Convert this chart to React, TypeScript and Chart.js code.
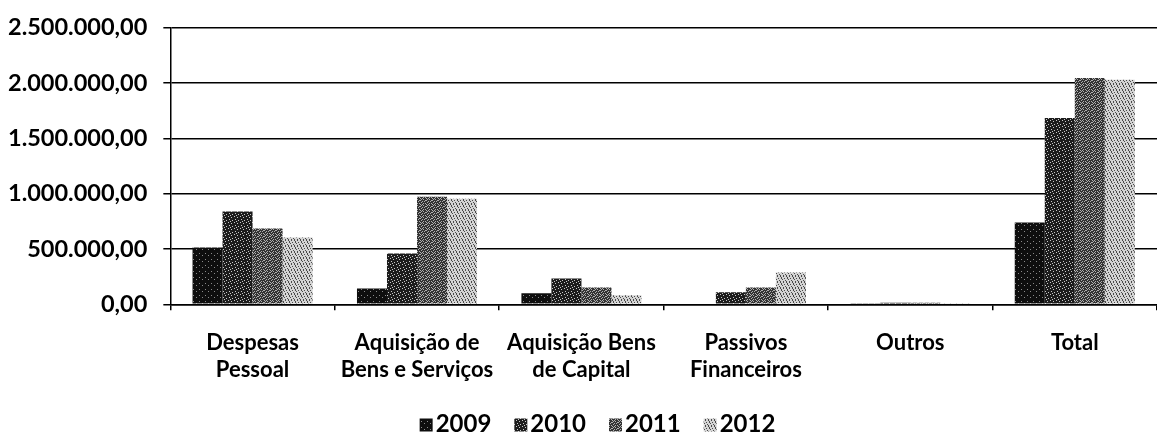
import React, { useEffect, useRef } from "react";
import { Chart, registerables } from "chart.js";

Chart.register(...registerables);

const categories: (string | string[])[] = [
  ["Despesas", "Pessoal"],
  ["Aquisição de", "Bens e Serviços"],
  ["Aquisição Bens", "de Capital"],
  ["Passivos", "Financeiros"],
  "Outros",
  "Total",
];

const seriesNames = ["2009", "2010", "2011", "2012"];

const values2009 = [514000, 144000, 99000, 0, 6000, 739000];
const values2010 = [838000, 460000, 234000, 108000, 14000, 1685000];
const values2011 = [685000, 973000, 153000, 153000, 14000, 2045000];
const values2012 = [604000, 955000, 81000, 288000, 6000, 2030000];

const yTicks = [0, 500000, 1000000, 1500000, 2000000, 2500000];

function fmt(n: number): string {
  const s = Math.round(n).toString();
  const grouped = s.replace(/\B(?=(\d{3})+(?!\d))/g, ".");
  return grouped + ",00";
}

function makePattern(base: string, dot: string, dots: number[][], size: number) {
  const c = document.createElement("canvas");
  c.width = size;
  c.height = size;
  const ctx = c.getContext("2d")!;
  ctx.fillStyle = base;
  ctx.fillRect(0, 0, size, size);
  ctx.fillStyle = dot;
  for (const [x, y] of dots) ctx.fillRect(x, y, 1, 1);
  return ctx.createPattern(c, "repeat")!;
}

const bottomLegend = {
  id: "bottomLegend",
  afterDraw(chart: any) {
    const ctx = chart.ctx as CanvasRenderingContext2D;
    const font = "bold 24px Lato";
    const box = 13;
    const boxGap = 3;
    const itemGap = 23;
    const textY = 424;
    ctx.save();
    ctx.font = font;
    ctx.textBaseline = "middle";
    ctx.textAlign = "left";
    const items = chart.data.datasets.map((ds: any) => ({
      label: String(ds.label),
      fill: ds.backgroundColor,
      w: ctx.measureText(String(ds.label)).width,
    }));
    const total =
      items.reduce((a: number, it: any) => a + box + boxGap + it.w, 0) + itemGap * (items.length - 1);
    let x = chart.width / 2 + 19 - total / 2;
    for (const it of items) {
      ctx.fillStyle = it.fill;
      ctx.fillRect(x, textY - box / 2 + 1, box, box);
      x += box + boxGap;
      ctx.fillStyle = "#000";
      ctx.fillText(it.label, x, textY);
      x += it.w + itemGap;
    }
    ctx.restore();
  },
};

export default function App() {
  const ref = useRef<HTMLCanvasElement>(null);
  useEffect(() => {
    const p2009 = makePattern("#0e0e0e", "#8a8a8a", [[1, 1], [4, 3]], 6);
    const p2010 = makePattern("#1c1c1c", "#c8c8c8", [[0, 0], [3, 1], [1, 3], [4, 4], [2, 5]], 6);
    const p2011 = makePattern("#333333", "#b0b0b0", [[0, 0], [2, 0], [1, 1], [3, 1], [0, 2], [5, 2], [2, 3], [4, 3], [1, 4], [3, 5], [5, 5]], 6);
    const p2012 = makePattern("#d4d4d4", "#4a4a4a", [[0, 0], [3, 0], [1, 2], [4, 2], [2, 3], [5, 4], [0, 5], [3, 5], [1, 1]], 6);
    const fills = [p2009, p2010, p2011, p2012];
    const vals = [values2009, values2010, values2011, values2012];

    const chart = new Chart(ref.current!, {
      type: "bar",
      data: {
        labels: categories,
        datasets: seriesNames.map((name, i) => ({
          label: name,
          data: vals[i],
          backgroundColor: fills[i],
          borderWidth: 0,
          categoryPercentage: 0.73,
          barPercentage: 1.0,
        })),
      },
      plugins: [bottomLegend],
      options: {
        responsive: false,
        animation: false,
        layout: { padding: { left: -8, right: 0, top: 0, bottom: 34 } },
        plugins: {
          tooltip: { enabled: false },
          legend: { display: false },
        },
        scales: {
          x: {
            offset: true,
            grid: {
              display: true,
              drawOnChartArea: false,
              drawTicks: true,
              tickLength: 6,
              offset: true,
              color: "#000",
              lineWidth: 1.5,
            },
            border: { display: true, color: "#000", width: 1.5 },
            ticks: {
              color: "#000",
              maxRotation: 0,
              autoSkip: false,
              padding: 19,
              font: { family: "Lato", weight: "bold", size: 22, lineHeight: 1.22 },
            },
          },
          y: {
            min: 0,
            max: 2500000,
            afterBuildTicks: (axis: any) => {
              axis.ticks = yTicks.map((v) => ({ value: v }));
            },
            grid: {
              color: "#000",
              lineWidth: 1.5,
              drawTicks: true,
              tickLength: 7,
            },
            border: { display: true, color: "#000", width: 1.5 },
            ticks: {
              color: "#000",
              padding: 16,
              font: { family: "Lato", weight: "bold", size: 23.5, lineHeight: 1.0 },
              callback: (v: any) => fmt(Number(v)),
            },
          },
        },
      },
    });
    return () => chart.destroy();
  }, []);

  return (
    <div style={{ position: "fixed", left: 0, top: 0, width: 1157, height: 436, background: "#fff" }}>
      <canvas ref={ref} width={1157} height={436} style={{ display: "block" }} />
    </div>
  );
}
